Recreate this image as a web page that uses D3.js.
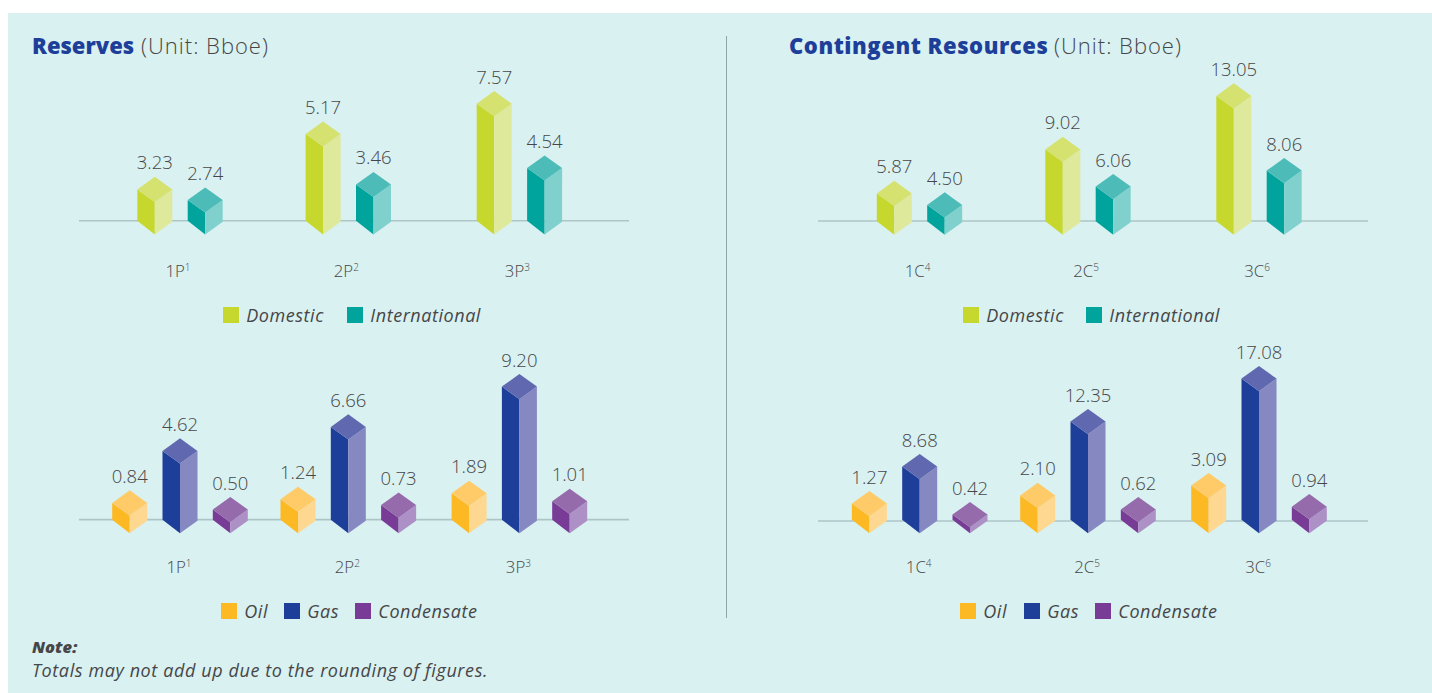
<!DOCTYPE html>
<html><head><meta charset="utf-8">
<script src="https://cdn.jsdelivr.net/npm/d3@7"></script>
<style>
html,body{margin:0;padding:0;background:#fff;overflow:hidden}
text{font-family:"Open Sans",Lato,sans-serif;fill:#464648}
</style></head><body><svg id="c" width="1432" height="693"></svg>
<script>
// ---------- data ----------
const reserveCats = ["1P","2P","3P"];
const reserveSups = ["1","2","3"];
const contingentCats = ["1C","2C","3C"];
const contingentSups = ["4","5","6"];
const locationSeries = ["Domestic","International"];
const productSeries = ["Oil","Gas","Condensate"];
const reservesDomestic = [3.23,5.17,7.57];
const reservesInternational = [2.74,3.46,4.54];
const reservesOil = [0.84,1.24,1.89];
const reservesGas = [4.62,6.66,9.20];
const reservesCondensate = [0.50,0.73,1.01];
const contingentDomestic = [5.87,9.02,13.05];
const contingentInternational = [4.50,6.06,8.06];
const contingentOil = [1.27,2.10,3.09];
const contingentGas = [8.68,12.35,17.08];
const contingentCondensate = [0.42,0.62,0.94];

// ---------- styles ----------
const palette = {
  Domestic:{front:"#c6d82e",side:"#dfe99c",top:"#d5e26f"},
  International:{front:"#00a49c",side:"#80d1cd",top:"#4dbcb8"},
  Oil:{front:"#fdb924",side:"#fed890",top:"#fecb68"},
  Gas:{front:"#1e3f99",side:"#8688c2",top:"#6069b0"},
  Condensate:{front:"#783c96",side:"#ad90c6",top:"#966bac"}
};
const svg = d3.select("#c");
svg.append("rect").attr("x",8).attr("y",13).attr("width",1424).attr("height",680).attr("fill","#d9f1f1");
svg.append("line").attr("x1",726.5).attr("x2",726.5).attr("y1",36).attr("y2",618).attr("stroke","#8fa5a8").attr("stroke-width",1);

const halfW = 17.5, topH = 12.6;

function panel(o){
  const g = svg.append("g");
  const x = d3.scaleOrdinal().domain(o.cats).range(o.centers);
  const off = d3.scalePoint().domain(o.series).range(o.series.length===2?[-25.2,25.2]:[-50.3,50.3]);
  // the source artwork is not drawn to a linear scale, so the height scale is calibrated piecewise
  const h = d3.scaleLinear().domain(o.knots).range(o.heights);
  const lx = d3.scaleLinear().domain([0,1]).range(o.axisX);
  g.append("line").attr("x1",lx(0)).attr("x2",lx(1)).attr("y1",o.axisY).attr("y2",o.axisY)
    .attr("stroke","#aec5c7").attr("stroke-width",1.6);
  const rows = [];
  o.cats.forEach((c,i)=>o.series.forEach((s,j)=>rows.push({c,s,v:o.values[j][i]})));
  const bars = g.selectAll("g.bar").data(rows).join("g").attr("class","bar")
    .attr("transform",d=>`translate(${x(d.c)+off(d.s)},${o.bottom})`);
  bars.append("path").attr("fill",d=>palette[d.s].front)
    .attr("d",d=>{const H=h(d.v);return `M0,0L${-halfW},${-topH-1}L${-halfW},${-H+topH}L0,${-H+2*topH}Z`;});
  bars.append("path").attr("fill",d=>palette[d.s].side)
    .attr("d",d=>{const H=h(d.v);return `M0,0L${halfW},${-topH}L${halfW},${-H+topH}L0,${-H+2*topH}Z`;});
  bars.append("path").attr("fill",d=>palette[d.s].top)
    .attr("d",d=>{const H=h(d.v);return `M0,${-H}L${halfW},${-H+topH}L0,${-H+2*topH}L${-halfW},${-H+topH}Z`;});
  bars.append("text").attr("text-anchor","middle").attr("y",d=>-h(d.v)-7.5)
    .attr("font-size",18.5).attr("font-weight",300).text(d=>d.v.toFixed(2));
  // category labels
  const cl = g.selectAll("text.cat").data(o.cats).join("text").attr("class","cat")
    .attr("text-anchor","middle").attr("font-size",16.8).attr("font-weight",300)
    .attr("x",d=>x(d)+o.catShift).attr("y",o.catY).text(d=>d);
  cl.append("tspan").attr("font-size",10).attr("dy",-6).text((d,i)=>o.sups[i]);
  // legend
  const le = g.selectAll("g.leg").data(o.series).join("g").attr("class","leg")
    .attr("transform",(d,i)=>`translate(${o.legX[i]},${o.legY})`);
  le.append("rect").attr("width",16).attr("height",16).attr("fill",d=>palette[d].front);
  le.append("text").attr("x",23.3).attr("y",14.7).attr("font-size",18).attr("font-style","italic")
    .attr("letter-spacing",0.55).text(d=>d);
}

panel({cats:reserveCats,sups:reserveSups,series:locationSeries,values:[reservesDomestic,reservesInternational],
  centers:[180,348.3,519.4],axisX:[79,629],axisY:220.7,bottom:234.4,
  knots:[2.74,3.46,4.54,5.17,7.57],heights:[47,62.5,79,113,143.3],
  catY:276.5,catShift:-2,legX:[223,347],legY:307});
panel({cats:contingentCats,sups:contingentSups,series:locationSeries,values:[contingentDomestic,contingentInternational],
  centers:[919.5,1088,1259],axisX:[818,1368],axisY:221,bottom:234.8,
  knots:[4.5,5.87,6.06,8.06,9.02,13.05],heights:[42.5,54,60.8,76.8,98,151.5],
  catY:276.5,catShift:-2,legX:[963,1086],legY:307});
panel({cats:reserveCats,sups:reserveSups,series:productSeries,values:[reservesOil,reservesGas,reservesCondensate],
  centers:[180,348.3,519.4],axisX:[79,629],axisY:519.6,bottom:533.3,
  knots:[0.5,0.84,1.89,4.62,6.66,9.2],heights:[36.3,43,52.6,95,119,159.3],
  catY:573,catShift:-1,legX:[221,284,355],legY:603});
panel({cats:contingentCats,sups:contingentSups,series:productSeries,values:[contingentOil,contingentGas,contingentCondensate],
  centers:[919.7,1088,1259],axisX:[818,1368],axisY:521,bottom:533.3,
  knots:[0.42,0.62,1.27,3.09,8.68,12.35,17.08],heights:[31.3,36.3,42.3,60.3,79.3,124.3,167.3],
  catY:573,catShift:-1,legX:[960,1024,1095],legY:603});

// titles
function title(x,bold,gapX,spacing){
  svg.append("text").attr("x",x).attr("y",53.5).attr("font-size",22).attr("font-weight",800)
    .attr("letter-spacing",spacing).style("fill","#1e3f99").text(bold);
  svg.append("text").attr("x",gapX).attr("y",53.5).attr("font-size",22).attr("font-weight",300)
    .attr("letter-spacing",1).text("(Unit: Bboe)");
}
title(32,"Reserves",141,0);
title(789,"Contingent Resources",1054,0.55);

// note
svg.append("text").attr("x",32).attr("y",652.5).attr("font-size",16.5).attr("font-weight",800).attr("font-style","italic").text("Note:");
svg.append("text").attr("x",32).attr("y",677).attr("font-size",18).attr("font-style","italic")
  .attr("letter-spacing",0.6).text("Totals may not add up due to the rounding of figures.");
</script></body></html>
